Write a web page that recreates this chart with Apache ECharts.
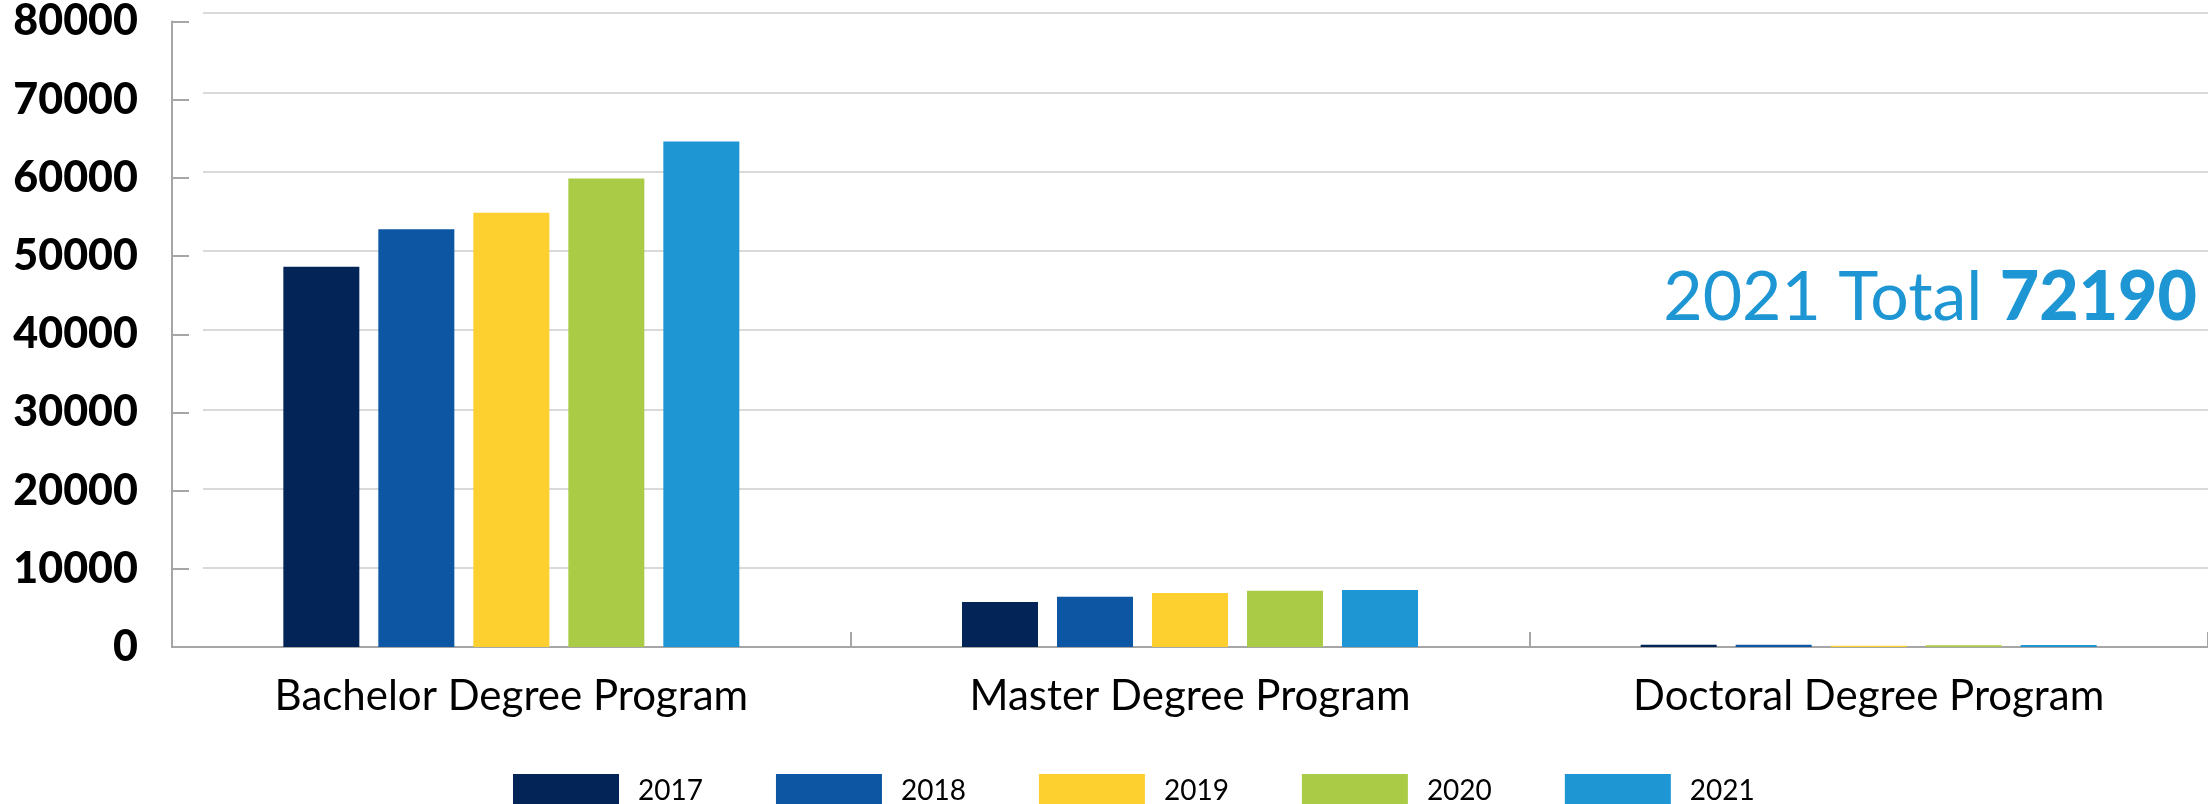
<!DOCTYPE html>
<html>
<head>
<meta charset="utf-8">
<script src="https://cdn.jsdelivr.net/npm/echarts@6/dist/echarts.min.js"></script>
<style>html,body{margin:0;padding:0;background:#fff}#c{width:2208px;height:804px}</style>
</head>
<body>
<div id="c"></div>
<script>
const categories = ['Bachelor Degree Program', 'Master Degree Program', 'Doctoral Degree Program'];
const years = ['2017', '2018', '2019', '2020', '2021'];
const values2017 = [48620, 5770, 300];
const values2018 = [53420, 6440, 280];
const values2019 = [55530, 6900, 170];
const values2020 = [59920, 7200, 220];
const values2021 = [64640, 7300, 250];
const yTicks = [0, 10000, 20000, 30000, 40000, 50000, 60000, 70000, 80000];
const totalLabel = '2021 Total ';
const totalValue = '72190';

const colors = ['#022457', '#0d56a3', '#fdd02f', '#a9cb45', '#1d96d3'];
const seriesValues = [values2017, values2018, values2019, values2020, values2021];

const chart = echarts.init(document.getElementById('c'));
const gridTop = 13, gridBottom = 157;
chart.setOption({
  animation: false,
  backgroundColor: '#fff',
  color: colors,
  title: {
    right: 6, top: 259,
    text: '{a|' + totalLabel + '}{b|' + totalValue + '}',
    textStyle: {
      rich: {
        a: { fontFamily: 'Lato', fontSize: 68, color: '#1d96d3', fontWeight: 'normal' },
        b: { fontFamily: 'Lato', fontSize: 68, color: '#1d96d3', fontWeight: 900 }
      }
    }
  },
  legend: {
    left: 508, top: 769,
    itemWidth: 106, itemHeight: 33, itemGap: 73,
    icon: 'rect',
    data: years,
    textStyle: { fontFamily: 'Lato', fontSize: 28, color: '#000', padding: [0, 0, 0, 14] }
  },
  grid: [
    { left: 172, right: 0, top: gridTop, bottom: gridBottom },
    { left: 203, right: 0, top: gridTop, bottom: gridBottom }
  ],
  xAxis: [
    {
      type: 'category', gridIndex: 0, data: categories,
      axisLine: { lineStyle: { color: '#a6a6a6', width: 2 } },
      axisTick: { show: true, inside: true, length: 15, lineStyle: { color: '#a6a6a6', width: 2 } },
      axisLabel: { fontFamily: 'Lato', fontSize: 42, color: '#000', margin: 28 }
    },
    { type: 'value', gridIndex: 1, min: 0, max: 1, show: false }
  ],
  yAxis: [
    {
      type: 'value', gridIndex: 0, min: 0, max: 80000, interval: 10000,
      axisLine: { show: true, lineStyle: { color: '#a6a6a6', width: 2 } },
      axisTick: { show: true, inside: true, length: 17, lineStyle: { color: '#a6a6a6', width: 2 } },
      splitLine: { show: false },
      axisLabel: {
        fontFamily: 'Lato', fontWeight: 900, fontSize: 43, color: '#000', margin: 34,
        padding: [16, 0, 0, 0],
        formatter: v => yTicks.includes(v) ? String(v) : ''
      }
    },
    {
      type: 'value', gridIndex: 1, min: 0, max: 80000, interval: 10000,
      axisLine: { show: false }, axisTick: { show: false }, axisLabel: { show: false },
      splitLine: { show: true, lineStyle: { color: '#d9d9d9', width: 2 } }
    }
  ],
  series: years.map((y, i) => ({
    name: y, type: 'bar', xAxisIndex: 0, yAxisIndex: 0,
    data: seriesValues[i], barWidth: 76, barGap: '25%',
    itemStyle: { color: colors[i] }
  }))
});
</script>
</body>
</html>
